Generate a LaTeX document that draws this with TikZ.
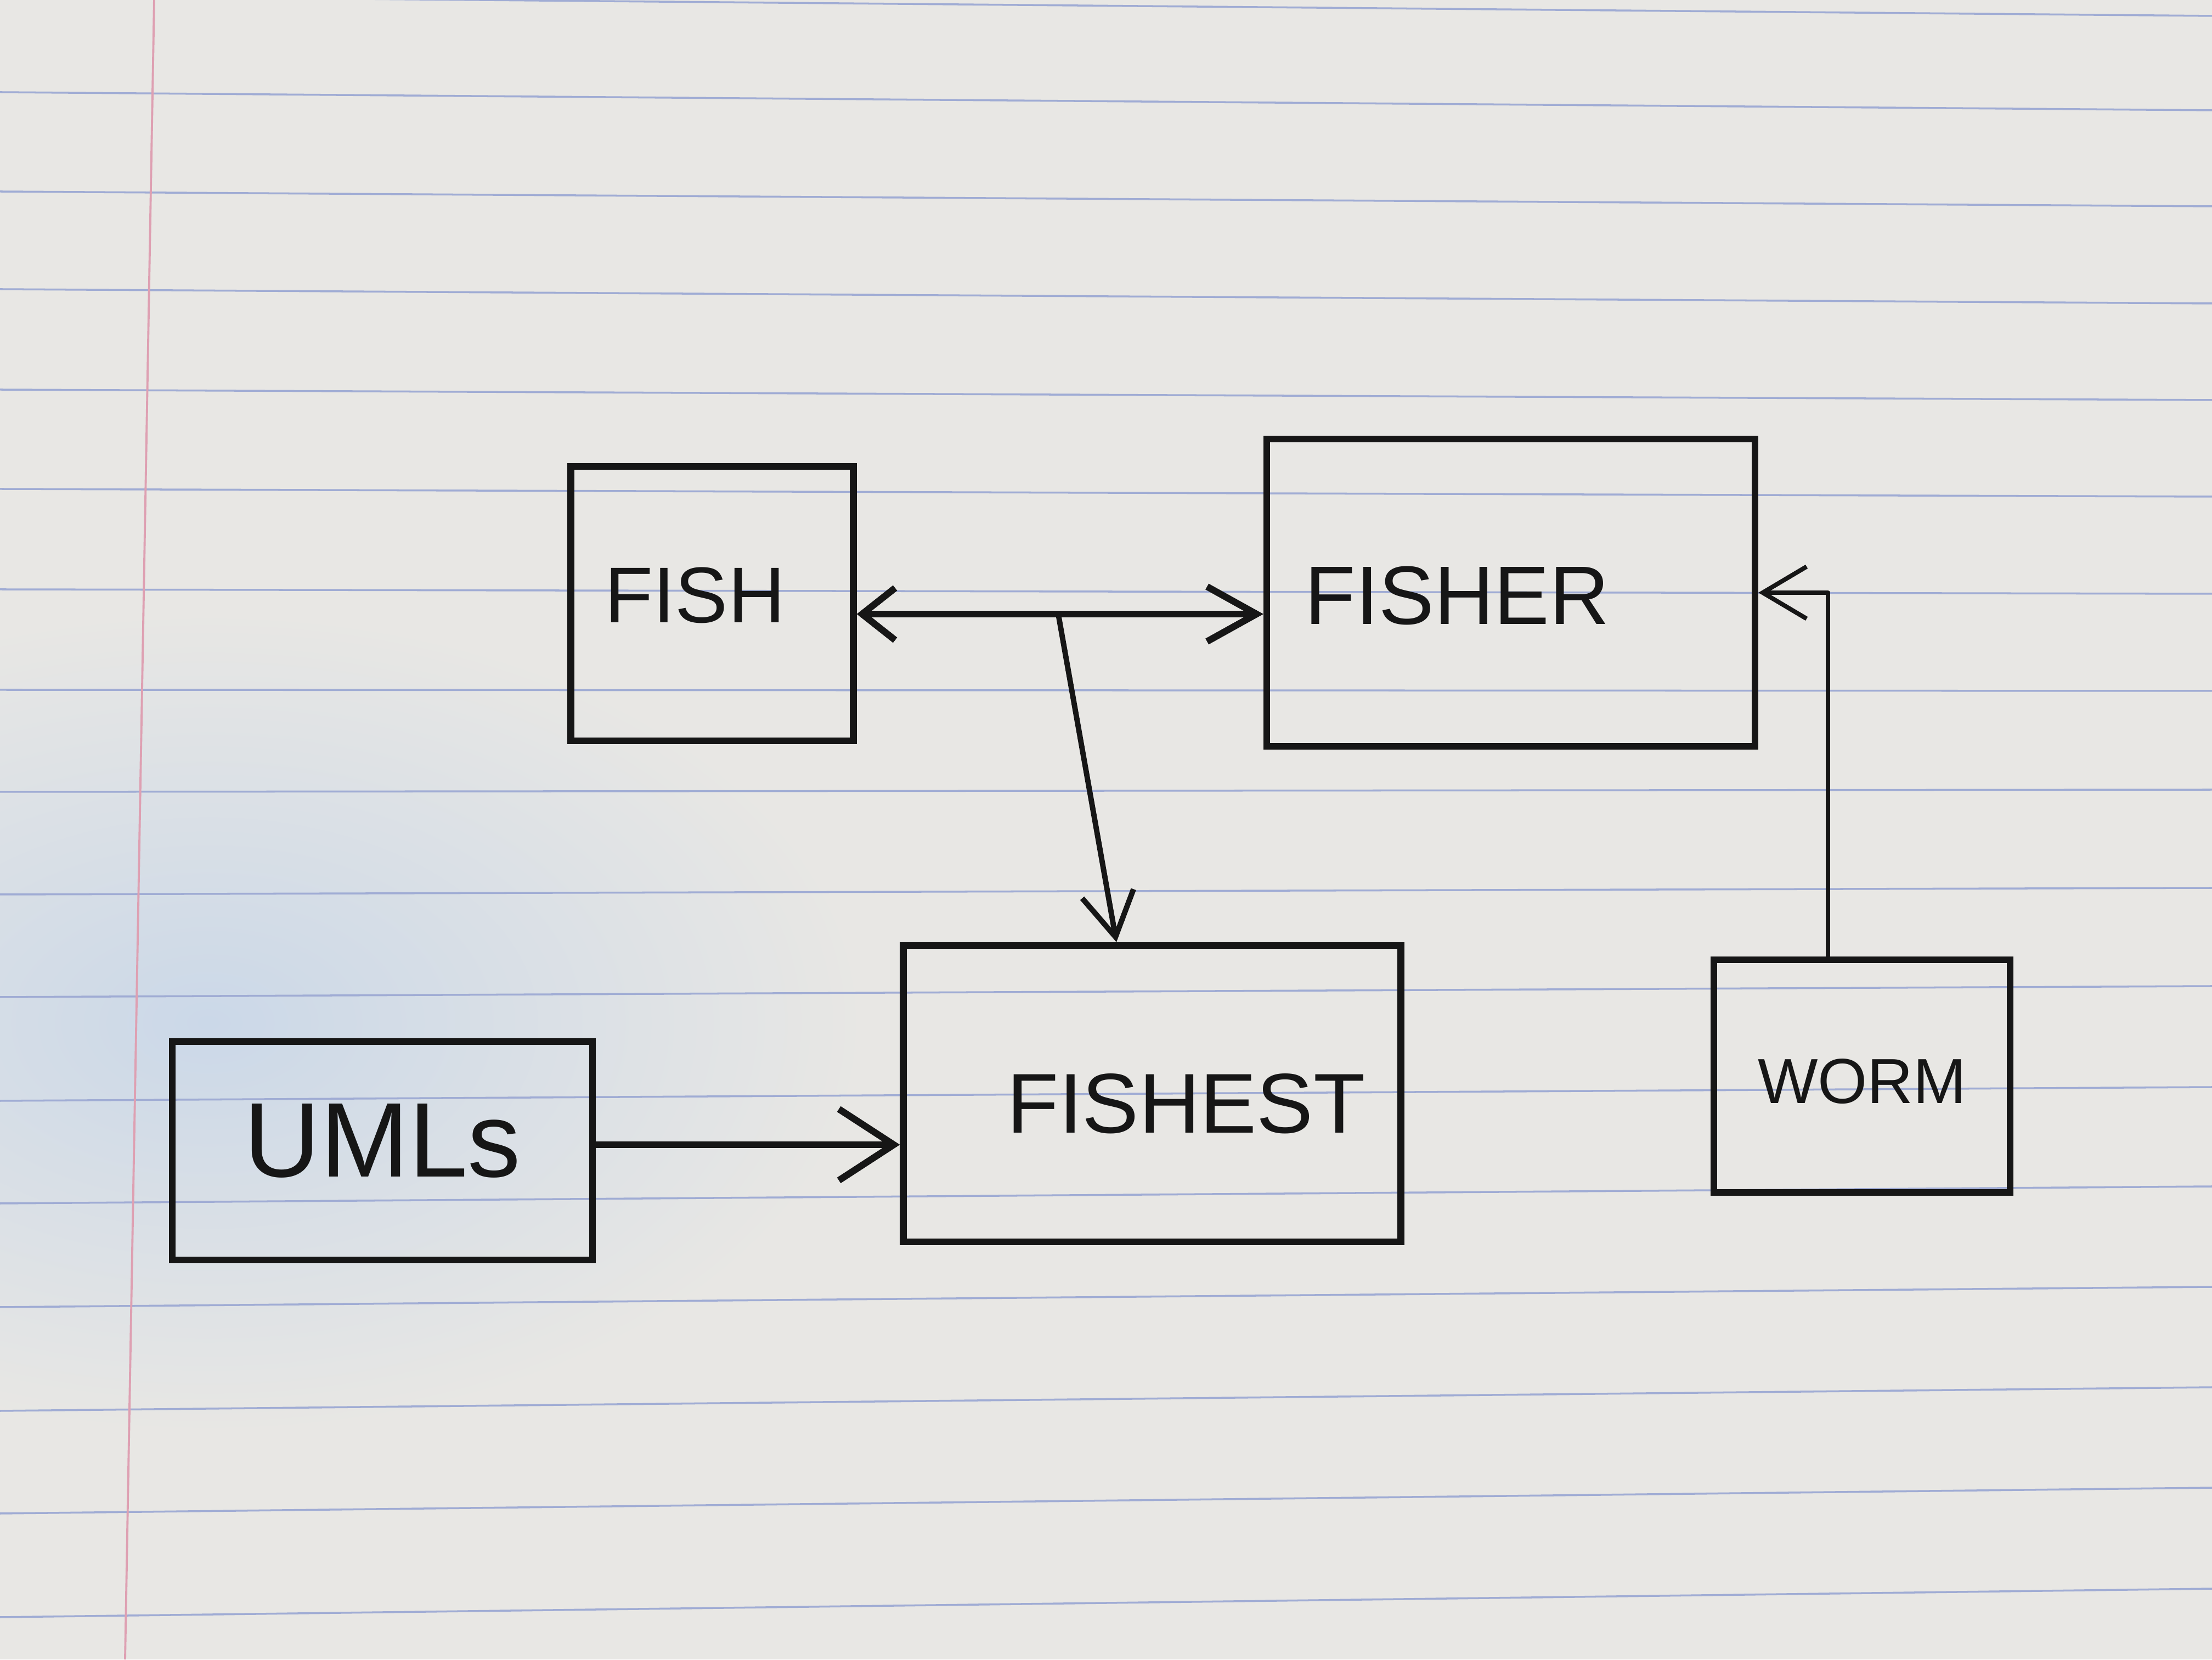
\documentclass[tikz,border=0pt]{standalone}
\usepackage{fontspec}
\setmainfont{Liberation Sans}
\usetikzlibrary{arrows.meta}
\definecolor{paper}{RGB}{232,231,228}
\definecolor{shadowblue}{RGB}{203,216,232}
\definecolor{rulecol}{RGB}{160,172,212}
\definecolor{margincol}{RGB}{222,160,178}
\definecolor{ink}{RGB}{22,22,22}
\tikzset{
  box/.style={draw=ink, line width=3.5pt, rectangle, inner sep=0pt},
  lbl/.style={text=ink, inner sep=0pt},
  conn/.style={draw=ink, line width=3.5pt, line cap=round, line join=round},
  midconn/.style={draw=ink, line width=2.8pt, line cap=round, line join=round},
  thinconn/.style={draw=ink, line width=2.3pt, line cap=round, line join=round},
  barb/.style={-{Straight Barb[length=0.8cm,width=0.95cm]}},
  bigbarb/.style={-{Straight Barb[length=1.0cm,width=1.3cm]}},
  dbarb/.style={{Straight Barb[length=0.6cm,width=0.95cm]}-{Straight Barb[length=0.9cm,width=1.0cm]}},
  rule/.style={draw=rulecol, line width=1pt},
}
\begin{document}
\begin{tikzpicture}
\useasboundingbox (0,0) rectangle (40.32,30.24);
% paper
\fill[paper] (0,0) rectangle (40.32,30.24);
\shade[inner color=shadowblue, outer color=paper] (3.8,11.6) ellipse (12 and 7.5);
\foreach \l/\r in {-8/29,168/201,349/376,527/553,710/729,891/905,1074/1082,1257/1259,1443/1439,1630/1618,1817/1797,2006/1981,2193/2162,2382/2345,2571/2528,2758/2711,2947/2895}
  \draw[rule] (0,{30.24-\l/100}) -- (40.32,{30.24-\r/100});
\draw[draw=margincol, line width=1.1pt] (2.81,30.24) -- (2.28,0);

% boxes
\node[box, minimum width=5.15cm, minimum height=5.0cm] (fish) at (12.98,19.24) {};
\node[box, minimum width=8.9cm, minimum height=5.6cm] (fisher) at (27.54,19.44) {};
\node[box, minimum width=9.07cm, minimum height=5.4cm] (fishest) at (21.0,10.31) {};
\node[box, minimum width=7.66cm, minimum height=3.98cm] (umls) at (6.97,9.27) {};
\node[box, minimum width=5.4cm, minimum height=4.24cm] (worm) at (33.94,10.63) {};

% labels
\node[lbl, font=\fontsize{41}{45}\selectfont] (fishtxt) at ([xshift=-0.31cm, yshift=0.15cm]fish.center) {FISH};
\node[lbl, font=\fontsize{43}{47}\selectfont] (fishertxt) at ([xshift=-0.98cm, yshift=-0.05cm]fisher.center) {FISHER};
\node[lbl, font=\fontsize{44}{48}\selectfont] (fishesttxt) at ([xshift=0.62cm, yshift=-0.18cm]fishest.center) {FISHEST};
\node[lbl, font=\fontsize{55}{60}\selectfont] (umlstxt) at ([yshift=0.18cm]umls.center) {UMLs};
\node[lbl, font=\fontsize{33}{37}\selectfont] (wormtxt) at ([yshift=-0.1cm]worm.center) {WORM};

% connectors
\coordinate (j) at (19.29,19.05);
\coordinate (ft) at (20.35,0);
\coordinate (k) at (13,9.38);
\coordinate (wt) at (33.32,0);
\draw[conn, dbarb] (fish.east |- j) -- (fisher.west |- j);
\draw[midconn, barb] (j) -- (ft |- fishest.north);
\draw[conn, bigbarb] (umls.east |- k) -- (fishest.west |- k);
\draw[thinconn, barb] (wt |- worm.north) |- (fisher.east);
\end{tikzpicture}
\end{document}
